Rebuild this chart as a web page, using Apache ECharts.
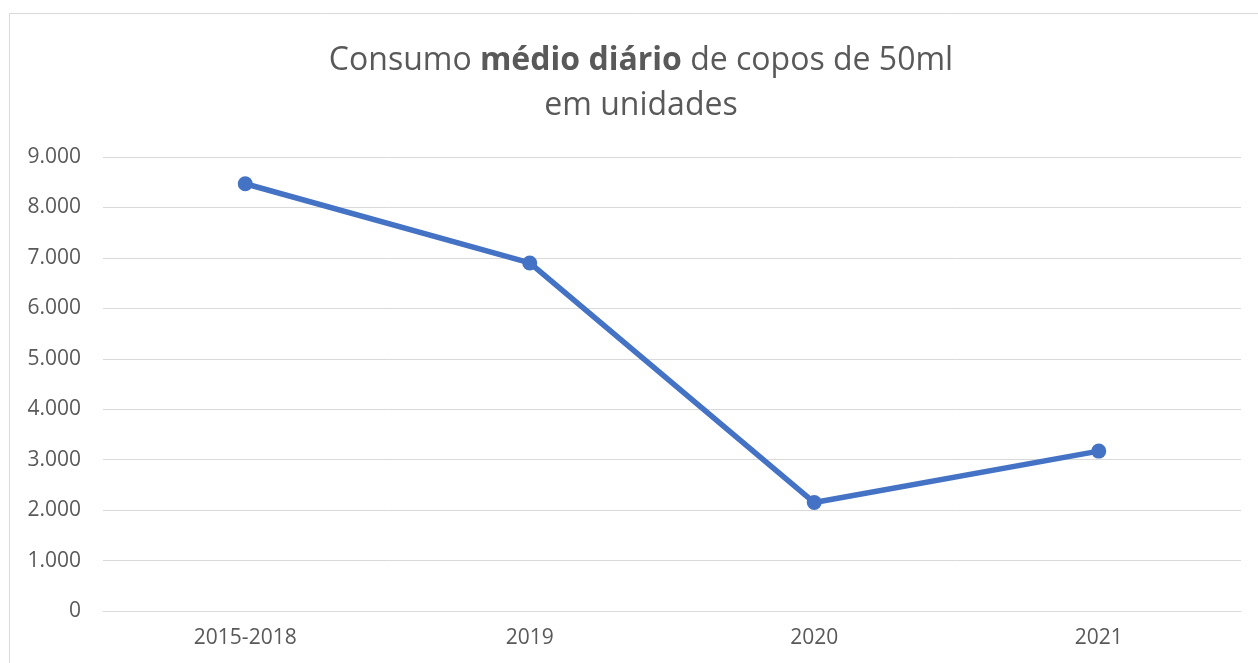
<!DOCTYPE html>
<html>
<head>
<meta charset="utf-8">
<script src="https://cdn.jsdelivr.net/npm/echarts@6/dist/echarts.min.js"></script>
<style>
  html, body { margin: 0; padding: 0; background: #fff; }
  #chart { width: 1258px; height: 663px; }
</style>
</head>
<body>
<div id="chart"></div>
<script>
// data
var categories = ["2015-2018", "2019", "2020", "2021"];
var consumo = [8470, 6900, 2150, 3170];
var yMin = 0, yMax = 9000, yStep = 1000;

var labelColor = "#595959";
var lineColor = "#4472C4";
var font = "'Open Sans', 'Noto Sans', sans-serif";

function fmtThousands(v) {
	return String(v).replace(/\B(?=(\d{3})+(?!\d))/g, ".");
}

var myChart = echarts.init(document.getElementById("chart"));
myChart.setOption({
	animation: false,
	backgroundColor: "#fff",
	graphic: [{
		type: "rect",
		shape: { x: 9.5, y: 13.5, width: 1260, height: 700 },
		style: { fill: "none", stroke: "#d9d9d9", lineWidth: 1 },
		silent: true
	}],
	title: {
		text: "{n|Consumo }{b|médio diário}{n| de copos de 50ml}\n{n|em unidades}",
		left: 636,
		top: 33,
		textAlign: "center",
		textStyle: {
			fontWeight: "normal",
			rich: {
				n: { fontFamily: font, fontSize: 32, color: labelColor, fontWeight: "normal", lineHeight: 45 },
				b: { fontFamily: font, fontSize: 32, color: labelColor, fontWeight: "bold", lineHeight: 45 }
			}
		}
	},
	grid: { left: 103, right: 17, top: 157, bottom: 52, containLabel: false },
	xAxis: {
		type: "category",
		data: categories,
		boundaryGap: true,
		axisLine: { show: true, lineStyle: { color: "#d9d9d9", width: 1 } },
		axisTick: { show: false },
		axisLabel: { color: labelColor, fontSize: 21, fontFamily: font, margin: 17 }
	},
	yAxis: {
		type: "value",
		min: yMin,
		max: yMax,
		interval: yStep,
		axisLine: { show: false },
		axisTick: { show: false },
		splitLine: { lineStyle: { color: "#d9d9d9", width: 1 } },
		axisLabel: {
			color: labelColor, fontSize: 21, fontFamily: font, margin: 22,
			formatter: fmtThousands
		}
	},
	series: [{
		type: "line",
		data: consumo,
		symbol: "circle",
		symbolSize: 15,
		lineStyle: { color: lineColor, width: 5.5 },
		itemStyle: { color: lineColor },
		label: { show: false }
	}]
});
</script>
</body>
</html>
